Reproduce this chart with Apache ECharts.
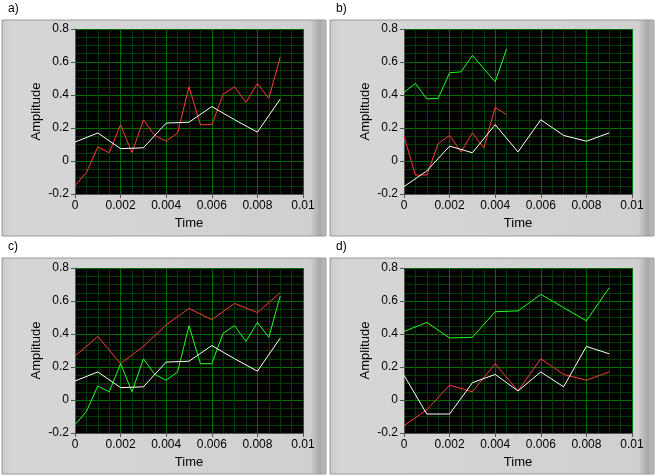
<!DOCTYPE html>
<html><head><meta charset="utf-8">
<script src="https://cdn.jsdelivr.net/npm/echarts@6/dist/echarts.min.js"></script>
<style>html,body{margin:0;padding:0;background:#fff}#c{width:657px;height:476px}</style>
</head><body><div id="c"></div>
<script>
const panelLabels = ['a)','b)','c)','d)'];
const tHalf = [0,0.0005,0.001,0.0015,0.002,0.0025,0.003,0.0035,0.004,0.0045,0.005,0.0055,0.006,0.0065,0.007,0.0075,0.008,0.0085,0.009];
const tFull = [0,0.001,0.002,0.003,0.004,0.005,0.006,0.007,0.008,0.009];
const tShort = [0,0.0005,0.001,0.0015,0.002,0.0025,0.003,0.0035,0.004,0.0045];
const sigA = [-0.15,-0.07,0.085,0.05,0.22,0.05,0.25,0.155,0.12,0.17,0.45,0.22,0.22,0.405,0.45,0.355,0.47,0.38,0.63];
const sigW = [0.115,0.17,0.075,0.08,0.23,0.235,0.33,0.25,0.175,0.375];
const sigR = [0.266,0.385,0.22,0.325,0.455,0.555,0.487,0.585,0.53,0.65];
const sigG = [0.416,0.47,0.376,0.38,0.535,0.54,0.64,0.56,0.48,0.68];
const sigB = [0.15,-0.085,-0.085,0.105,0.155,0.055,0.17,0.08,0.325,0.28];
const sigC = [-0.155,-0.06,0.09,0.05,0.22,0.055,0.25,0.155,0.12,0.17];

const RED='#ff3b3b', WHITE='#ffffff', GREEN='#22ff22';
const zip=(t,v)=>t.map((x,i)=>[x,v[i]]);
const panels=[
  [[tHalf,sigA,RED],[tFull,sigW,WHITE]],
  [[tShort,sigG,GREEN],[tShort,sigB,RED],[tFull,sigC,WHITE]],
  [[tFull,sigR,RED],[tHalf,sigA,GREEN],[tFull,sigW,WHITE]],
  [[tFull,sigG,GREEN],[tFull,sigC,RED],[tFull,sigB,WHITE]]
];
const frames=[[2,20],[330,20],[2,258],[330,258]];
const grids=[[75,29],[404,29],[75,268],[404,268]];
const GW=228, GH=165;
const font='Liberation Sans';
const option={animation:false,grid:[],xAxis:[],yAxis:[],series:[],graphic:[]};
frames.forEach((f,i)=>{
  option.graphic.push({type:'rect',shape:{x:f[0],y:f[1],width:324,height:216},style:{
    fill:{type:'linear',x:0,y:0,x2:1,y2:0,colorStops:[{offset:0,color:'#c8c8c8'},{offset:0.03,color:'#d6d6d6'},{offset:0.95,color:'#d0d0d0'},{offset:0.98,color:'#a8a8a8'},{offset:1,color:'#c0c0c0'}]},
    stroke:'#9a9a9a',lineWidth:1},z:-10});
  option.graphic.push({type:'text',left:f[0]+6,top:f[1]-17,style:{text:panelLabels[i],fontFamily:font,fontSize:12,fill:'#000'}});
  const g=grids[i];
  option.grid.push({left:g[0],top:g[1],width:GW,height:GH,show:true,backgroundColor:'#000',borderWidth:0});
  option.xAxis.push({gridIndex:i,type:'value',min:0,max:0.01,interval:0.002,minorTick:{show:false,splitNumber:4},
    name:'Time',nameLocation:'middle',nameGap:23,nameTextStyle:{fontFamily:font,fontSize:13,color:'#000'},
    axisLine:{show:true,onZero:false,lineStyle:{color:'#555'}},axisTick:{show:true,length:4,lineStyle:{color:'#555'}},
    axisLabel:{fontFamily:font,fontSize:12,color:'#000',margin:6},
    splitLine:{show:true,lineStyle:{color:'#007000',width:1}},
    minorSplitLine:{show:true,lineStyle:{color:'#003c00',width:1}}});
  option.yAxis.push({gridIndex:i,type:'value',min:-0.2,max:0.8,interval:0.2,minorTick:{show:false,splitNumber:4},
    name:'Amplitude',nameLocation:'middle',nameGap:32,nameTextStyle:{fontFamily:font,fontSize:13,color:'#000'},
    axisLine:{show:true,onZero:false,lineStyle:{color:'#555'}},axisTick:{show:true,length:4,lineStyle:{color:'#555'}},
    axisLabel:{fontFamily:font,fontSize:12,color:'#000',margin:6,formatter:v=>String(Math.round(v*10)/10)},
    splitLine:{show:true,lineStyle:{color:'#007000',width:1}},
    minorSplitLine:{show:true,lineStyle:{color:'#003c00',width:1}}});
  panels[i].forEach(s=>option.series.push({type:'line',xAxisIndex:i,yAxisIndex:i,data:zip(s[0],s[1]),
    showSymbol:false,lineStyle:{color:s[2],width:1},itemStyle:{color:s[2]}}));
});
echarts.init(document.getElementById('c')).setOption(option);
</script></body></html>
